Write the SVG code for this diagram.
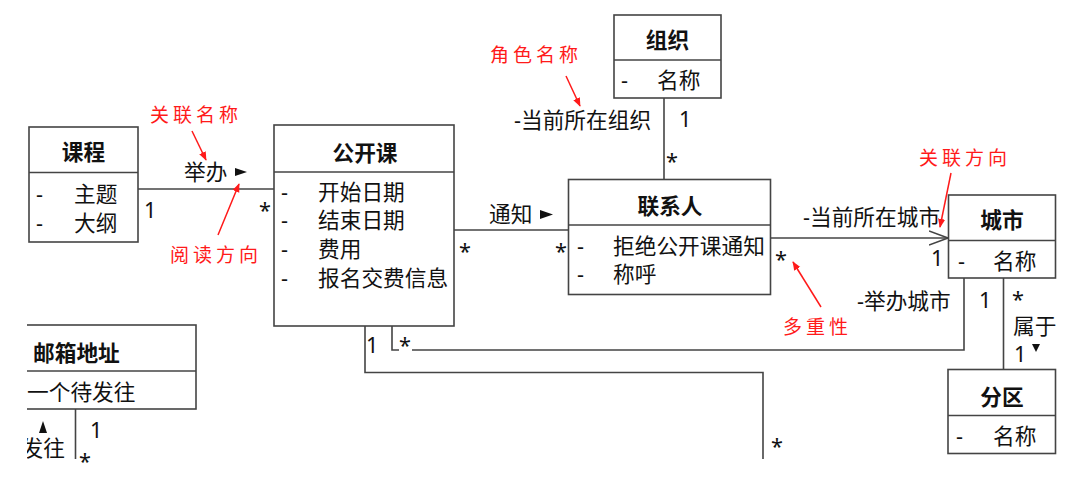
<svg xmlns="http://www.w3.org/2000/svg" width="1080" height="499" viewBox="0 0 1080 499">
<style>
.box{fill:#fff;stroke:#444;stroke-width:1.6}
.ln{fill:none;stroke:#444;stroke-width:1.6}
.t{font-family:"Noto Sans","Noto Sans CJK SC",sans-serif;font-size:21.7px;fill:#111}
.b{font-weight:bold;text-anchor:middle}
.r{font-family:"Noto Sans CJK SC",sans-serif;font-size:19px;fill:#ff1a1a;letter-spacing:4px}
.ra{fill:none;stroke:#ff1a1a;stroke-width:1.5;marker-end:url(#rh)}
.tri{fill:#111}
</style>
<defs>
<marker id="rh" viewBox="0 0 10 10" refX="9" refY="5" markerWidth="9" markerHeight="9" markerUnits="userSpaceOnUse" orient="auto"><path d="M0,1 L10,5 L0,9 z" fill="#ff1a1a"/></marker>
<marker id="open" viewBox="0 0 20 16" refX="19" refY="8" markerWidth="20" markerHeight="16" markerUnits="userSpaceOnUse" orient="auto"><path d="M0,1 L19,8 L0,15" fill="none" stroke="#444" stroke-width="1.6"/></marker>
<clipPath id="leftclip"><rect x="27" y="0" width="1053" height="499"/></clipPath>
</defs>
<rect width="1080" height="499" fill="#fff"/>

<g id="connectors">
<line class="ln" x1="138" y1="189" x2="274" y2="189"/>
<line class="ln" x1="454" y1="230" x2="568" y2="230"/>
<line class="ln" x1="664" y1="98" x2="664" y2="179"/>
<line class="ln" x1="771" y1="238" x2="948" y2="238" marker-end="url(#open)"/>
<line class="ln" x1="1003.5" y1="278" x2="1003.5" y2="369"/>
<path class="ln" d="M964,278 V350 H412"/>
<path class="ln" d="M392,326 V350 H399"/>
<path class="ln" d="M365,326 V372.5 H763 V459"/>
<line class="ln" x1="75.5" y1="409" x2="75.5" y2="459"/>
<!-- labels -->
<text class="t" x="184" y="180">举办</text>
<polygon class="tri" points="235,168 247,172 235,176"/>
<text class="t" x="144" y="217.5">1</text>
<text class="t" x="259" y="218">*</text>
<text class="t" x="489" y="222">通知</text>
<polygon class="tri" points="540,210 553,214.5 540,219"/>
<text class="t" x="459" y="259">*</text>
<text class="t" x="555" y="259">*</text>
<text class="t" x="514" y="128">-当前所在组织</text>
<text class="t" x="679" y="127">1</text>
<text class="t" x="666" y="169">*</text>
<text class="t" x="803" y="225">-当前所在城市</text>
<text class="t" x="775" y="267">*</text>
<text class="t" x="931" y="266">1</text>
<text class="t" x="857" y="309">-举办城市</text>
<text class="t" x="979" y="308">1</text>
<text class="t" x="1012" y="307">*</text>
<text class="t" x="1013" y="333.5">属于</text>
<text class="t" x="1014" y="361.5">1</text>
<polygon class="tri" points="1032,344 1040,344 1036,352"/>
<text class="t" x="366" y="352.5">1</text>
<text class="t" x="399" y="353">*</text>
<text class="t" x="771" y="454">*</text>
<text class="t" x="90" y="437.5">1</text>
<text class="t" x="79" y="469">*</text>
<polygon class="tri" points="43,421 47,433 39,433"/>
<text class="t" x="65" y="456" text-anchor="end" clip-path="url(#leftclip)">发往</text>
</g>

<g id="kecheng">
<rect class="box" x="29" y="127" width="109" height="115"/>
<line class="ln" x1="29" y1="172.5" x2="138" y2="172.5"/>
<text class="t b" x="83.5" y="160">课程</text>
<text class="t" x="36" y="202">-</text><text class="t" x="74" y="202">主题</text>
<text class="t" x="36" y="231">-</text><text class="t" x="74" y="231">大纲</text>
</g>

<g id="gongkaike">
<rect class="box" x="274" y="125" width="180" height="201"/>
<line class="ln" x1="274" y1="172" x2="454" y2="172"/>
<text class="t b" x="365" y="161">公开课</text>
<text class="t" x="281" y="200">-</text><text class="t" x="318" y="200">开始日期</text>
<text class="t" x="281" y="228">-</text><text class="t" x="318" y="228">结束日期</text>
<text class="t" x="281" y="257">-</text><text class="t" x="318" y="257">费用</text>
<text class="t" x="281" y="286">-</text><text class="t" x="318" y="286">报名交费信息</text>
</g>

<g id="zuzhi">
<rect class="box" x="614" y="15" width="107" height="83"/>
<line class="ln" x1="614" y1="60" x2="721" y2="60"/>
<text class="t b" x="667.5" y="48">组织</text>
<text class="t" x="621" y="88">-</text><text class="t" x="657" y="88">名称</text>
</g>

<g id="lianxiren">
<rect class="box" x="568.5" y="179.5" width="202" height="115"/>
<line class="ln" x1="568.5" y1="225" x2="770.5" y2="225"/>
<text class="t b" x="670" y="214">联系人</text>
<text class="t" x="577" y="254">-</text><text class="t" x="613" y="254">拒绝公开课通知</text>
<text class="t" x="577" y="282">-</text><text class="t" x="613" y="282">称呼</text>
</g>

<g id="chengshi">
<rect class="box" x="948.5" y="195" width="107" height="83"/>
<line class="ln" x1="948.5" y1="240.5" x2="1055.5" y2="240.5"/>
<text class="t b" x="1002" y="228">城市</text>
<text class="t" x="958" y="269">-</text><text class="t" x="993" y="269">名称</text>
</g>

<g id="fenqu">
<rect class="box" x="948" y="369.5" width="107.5" height="84"/>
<line class="ln" x1="948" y1="415.5" x2="1055.5" y2="415.5"/>
<text class="t b" x="1002" y="404.5">分区</text>
<text class="t" x="956" y="444">-</text><text class="t" x="993" y="444">名称</text>
</g>

<g id="youxiangdizhi" clip-path="url(#leftclip)">
<rect class="box" x="-60" y="325" width="256" height="84"/>
<line class="ln" x1="-60" y1="371" x2="196" y2="371"/>
<text class="t" x="33" y="361" font-weight="bold">邮箱地址</text>
<text class="t" x="27" y="400">一个待发往</text>
</g>

<g id="annotations">
<text class="r" x="150" y="122">关联名称</text>
<path class="ra" d="M192,131 L206,160"/>
<text class="r" x="170" y="262">阅读方向</text>
<path class="ra" d="M218,235 L239,184"/>
<text class="r" x="490" y="62">角色名称</text>
<path class="ra" d="M566,76 L580,106"/>
<text class="r" x="919" y="165">关联方向</text>
<path class="ra" d="M951,173 L940,227"/>
<text class="r" x="783" y="334">多重性</text>
<path class="ra" d="M821,307 L793,262"/>
</g>
</svg>
